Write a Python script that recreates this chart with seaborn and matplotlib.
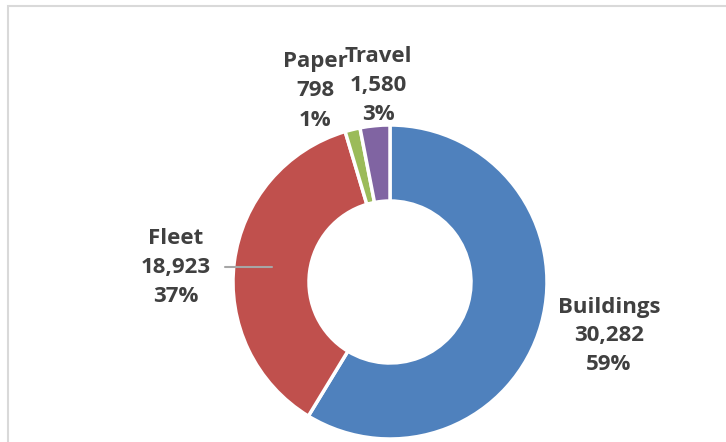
import matplotlib
matplotlib.use('Agg')
import matplotlib.pyplot as plt
from matplotlib.patches import Rectangle
import seaborn as sns

sns.set_style('white')
plt.rcParams['font.family'] = ['Open Sans', 'DejaVu Sans']

# data
categories = ['Buildings', 'Fleet', 'Paper', 'Travel']
emissions = [30282, 18923, 798, 1580]
pct_labels = ['59%', '37%', '1%', '3%']
colors = ['#4F81BD', '#C0504D', '#9BBB59', '#8064A2']

# label anchor points (pixels, from top-left)
label_pos = {'Buildings': (609, 336), 'Fleet': (176, 267),
             'Paper': (315, 91), 'Travel': (378, 85)}

W, H = 726, 442
fig = plt.figure(figsize=(W / 100, H / 100), dpi=100)
ax = fig.add_axes([0, 0, 1, 1])

ax.pie(emissions, colors=colors, startangle=90, counterclock=False,
       center=(390, H - 282), radius=157,
       wedgeprops=dict(width=76, edgecolor='white', linewidth=2.5))

# pie() resets the limits, so set pixel-like limits afterwards
ax.set_xlim(0, W)
ax.set_ylim(0, H)
ax.set_aspect('equal')
ax.axis('off')

for cat, val, pct in zip(categories, emissions, pct_labels):
    x, y = label_pos[cat]
    ax.text(x, H - y, '{}\n{:,}\n{}'.format(cat, val, pct), ha='center', va='center',
            fontsize=16, fontweight='bold', color='#404040', linespacing=1.5)

# leader line for Fleet
ax.plot([225, 272], [H - 267, H - 267], color='#A6A6A6', lw=1.5)

# chart frame
ax.add_patch(Rectangle((8, -10), W + 20, H - 6 + 10, fill=False,
                       edgecolor='#D9D9D9', lw=1.5, clip_on=False))

fig.savefig('out.png', dpi=100)
